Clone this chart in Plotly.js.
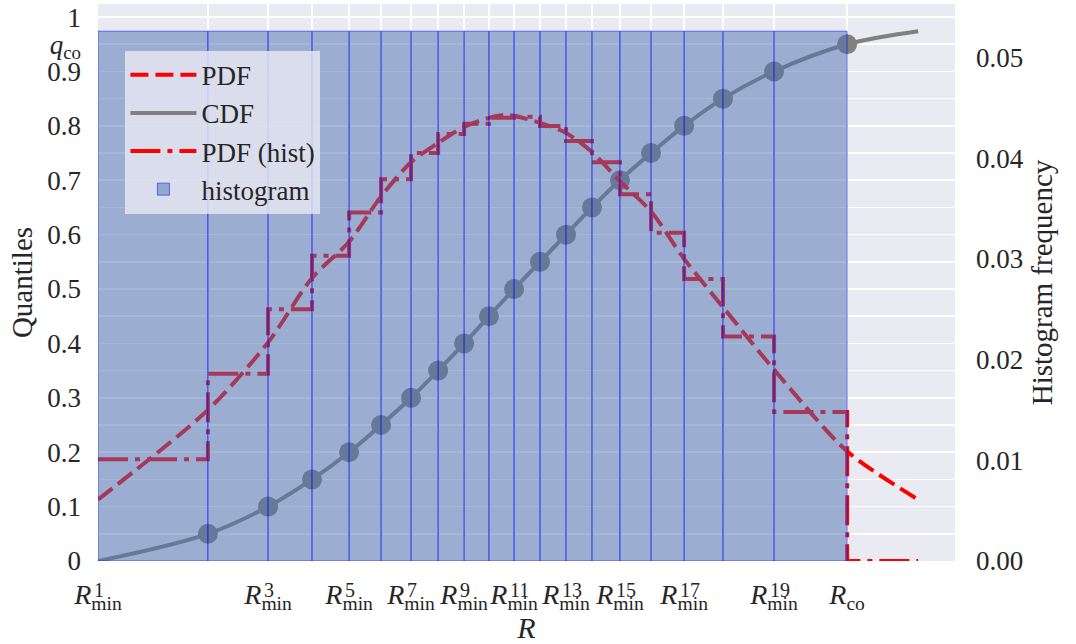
<!DOCTYPE html>
<html><head><meta charset="utf-8">
<script src="https://cdn.plot.ly/plotly-3.0.1.min.js"></script>
<style>html,body{margin:0;padding:0;background:#fff}#chart{width:1076px;height:644px}</style>
</head><body><div id="chart"></div>
<script>
// Quantile positions R_min^1 ... R_min^19 and R_co (units of R)
const rQuant = [0, 4.95, 7.66, 9.64, 11.31, 12.75, 14.10, 15.32, 16.49, 17.61, 18.74, 19.91, 21.08, 22.25, 23.51, 24.91, 26.40, 28.15, 30.45, 33.74];
// CDF levels at those positions
const qLevels = [0, 0.05, 0.10, 0.15, 0.20, 0.25, 0.30, 0.35, 0.40, 0.45, 0.50, 0.55, 0.60, 0.65, 0.70, 0.75, 0.80, 0.85, 0.90, 0.95];
// CDF continuation past R_co
const cdfTailR = [36.94];
const cdfTailQ = [0.974];
// smooth PDF (frequency units)
const pdfR   = [0, 4.95, 7.66, 9.64, 11.31, 12.75, 14.10, 15.32, 16.49, 17.61, 18.33, 18.74, 19.91, 21.08, 22.25, 23.51, 24.91, 26.40, 28.15, 30.45, 33.74, 36.94];
const pdfVal = [0.0061, 0.0150, 0.0217, 0.0281, 0.0317, 0.0362, 0.0396, 0.0415, 0.0431, 0.0440, 0.0443, 0.0442, 0.0435, 0.0425, 0.0406, 0.0377, 0.0347, 0.0300, 0.0252, 0.0190, 0.0109, 0.0061];
// step PDF from histogram (one level per bin), then zero past R_co
const histPdf = [0.0101, 0.0186, 0.0250, 0.0303, 0.0346, 0.0379, 0.0405, 0.0424, 0.0434, 0.0440, 0.0441, 0.0432, 0.0417, 0.0396, 0.0364, 0.0326, 0.0280, 0.0223, 0.0148];
const histTailR = [33.74, 36.94];
const histTailVal = [0, 0];
// histogram frequency per bin
const histFreq = [0.0526, 0.0526, 0.0526, 0.0526, 0.0526, 0.0526, 0.0526, 0.0526, 0.0526, 0.0526, 0.0526, 0.0526, 0.0526, 0.0526, 0.0526, 0.0526, 0.0526, 0.0526, 0.0526];
// tick labels
const xTickMain = ['<i>R</i><sub>min</sub>', '', '<i>R</i><sub>min</sub>', '', '<i>R</i><sub>min</sub>', '', '<i>R</i><sub>min</sub>', '', '<i>R</i><sub>min</sub>', '', '<i>R</i><sub>min</sub>', '', '<i>R</i><sub>min</sub>', '', '<i>R</i><sub>min</sub>', '', '<i>R</i><sub>min</sub>', '', '<i>R</i><sub>min</sub>', '<i>R</i><sub>co</sub>'];
const xTickSup = ['1', '', '3', '', '5', '', '7', '', '9', '', '11', '', '13', '', '15', '', '17', '', '19', ''];
const yTickVals = [0, 0.05, 0.1, 0.15, 0.2, 0.25, 0.3, 0.35, 0.4, 0.45, 0.5, 0.55, 0.6, 0.65, 0.7, 0.75, 0.8, 0.85, 0.9, 0.95, 1];
const yTickText = ['0', '', '0.1', '', '0.2', '', '0.3', '', '0.4', '', '0.5', '', '0.6', '', '0.7', '', '0.8', '', '0.9', '<i>q</i><sub>co</sub>', '1'];
const y2TickVals = [0, 0.01, 0.02, 0.03, 0.04, 0.05];
const y2TickText = ['0.00', '0.01', '0.02', '0.03', '0.04', '0.05'];

const FONT = "'Liberation Serif', 'Times New Roman', 'DejaVu Serif', serif";
const TXT = '#262626';

const binLeft = rQuant.slice(0, 19);
const binWidth = binLeft.map((v, i) => rQuant[i + 1] - v);

const traces = [
  { // CDF line
    x: rQuant.concat(cdfTailR), y: qLevels.concat(cdfTailQ),
    type: 'scatter', mode: 'lines', name: 'CDF', yaxis: 'y',
    line: {color: '#808080', width: 4, shape: 'spline', smoothing: 1},
    legendrank: 2, legendgroup: 'b'
  },
  { // CDF points
    x: rQuant.slice(1), y: qLevels.slice(1),
    type: 'scatter', mode: 'markers', showlegend: false, yaxis: 'y',
    marker: {color: '#808080', size: 20}
  },
  { // PDF
    x: pdfR, y: pdfVal, type: 'scatter', mode: 'lines', name: 'PDF', yaxis: 'y2',
    line: {color: '#ff0000', width: 4, dash: '18px,7px', shape: 'spline', smoothing: 0.8},
    legendrank: 1, legendgroup: 'a'
  },
  { // PDF (hist)
    x: binLeft.concat(histTailR), y: histPdf.concat(histTailVal),
    type: 'scatter', mode: 'lines', name: 'PDF (hist)', yaxis: 'y2',
    line: {color: '#ff0000', width: 4, dash: '30px,7px,5px,7px', shape: 'hv'},
    legendrank: 3, legendgroup: 'c'
  },
  { // histogram
    x: binLeft, y: histFreq, width: binWidth, offset: 0,
    type: 'bar', name: 'histogram', yaxis: 'y3',
    marker: {color: 'rgba(76,114,176,0.5)', line: {color: 'rgba(0,0,255,0.5)', width: 1}},
    legendrank: 4, legendgroup: 'd'
  }
];

const annotations = [];
xTickSup.forEach((s, i) => {
  if (!s) return;
  annotations.push({
    x: rQuant[i], xref: 'x', y: 0, yref: 'paper', text: s, showarrow: false,
    xanchor: 'left', yanchor: 'top', xshift: -6, yshift: -16,
    font: {family: FONT, size: 20, color: TXT}
  });
});

const layout = {
  width: 1076, height: 644,
  margin: {l: 98, r: 121, t: 4, b: 83},
  paper_bgcolor: '#ffffff', plot_bgcolor: '#eaeaf2',
  font: {family: FONT, color: TXT, size: 26},
  showlegend: true,
  bargap: 0,
  xaxis: {
    range: [0, 38.6], tickmode: 'array', tickvals: rQuant, ticktext: xTickMain,
    tickangle: 0, showgrid: true, gridcolor: '#ffffff', gridwidth: 1.6,
    zeroline: false, showline: false, ticks: '', ticklabelstandoff: 14,
    tickfont: {family: FONT, size: 28, color: TXT},
    title: {text: '<i>R</i>', font: {family: FONT, size: 30, color: TXT}, standoff: 4}
  },
  yaxis: {
    range: [0, 1.024], tickmode: 'array', tickvals: yTickVals, ticktext: yTickText,
    showgrid: true, gridcolor: '#ffffff', gridwidth: 1.6, zeroline: false, showline: false,
    ticks: '', ticklabelstandoff: 16,
    tickfont: {family: FONT, size: 27, color: TXT},
    title: {text: 'Quantiles', font: {family: FONT, size: 29, color: TXT}, standoff: 6}
  },
  yaxis2: {
    overlaying: 'y', side: 'right', range: [0, 0.0553], visible: false,
    showgrid: false, zeroline: false
  },
  yaxis3: {
    overlaying: 'y', side: 'right', range: [0, 0.0553], tickmode: 'array',
    tickvals: y2TickVals, ticktext: y2TickText, showgrid: false, zeroline: false,
    showline: false, ticks: '', ticklabelstandoff: 20,
    tickfont: {family: FONT, size: 27, color: TXT},
    title: {text: 'Histogram frequency', font: {family: FONT, size: 29, color: TXT}, standoff: 8}
  },
  legend: {
    x: 0.032, y: 0.916, xanchor: 'left', yanchor: 'top',
    bgcolor: 'rgba(234,234,242,0.8)', borderwidth: 0,
    font: {family: FONT, size: 27, color: TXT},
    traceorder: 'grouped', tracegroupgap: 0, itemwidth: 66
  },
  annotations: annotations
};

Plotly.newPlot('chart', traces, layout, {displayModeBar: false, staticPlot: true});
</script>
</body></html>
